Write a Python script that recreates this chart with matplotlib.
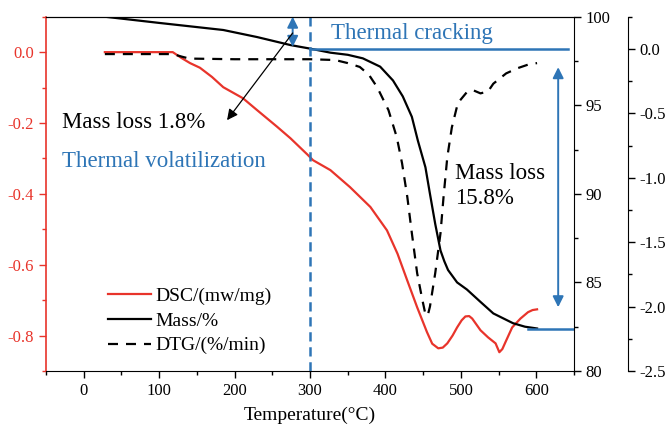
import numpy as np
import matplotlib
matplotlib.use("Agg")
from matplotlib import pyplot as plt
from matplotlib.ticker import MultipleLocator

plt.rcParams['font.family'] = ['Liberation Serif', 'DejaVu Serif']
plt.rcParams['axes.unicode_minus'] = False

# DSC heat flow (mw/mg) vs temperature
dsc_t = [28, 118, 130, 141, 154, 170, 185, 211, 230, 256, 274, 297, 304, 327, 353, 380,
         402, 416, 429, 442, 455, 462, 470, 476, 482, 489, 495, 501, 506, 511, 515, 520,
         526, 536, 546, 551, 555, 559, 568, 579, 589, 595, 601]
dsc_v = [0.0, 0.0, -0.017, -0.031, -0.044, -0.07, -0.099, -0.13, -0.164, -0.21, -0.243,
         -0.29, -0.305, -0.333, -0.381, -0.437, -0.503, -0.569, -0.645, -0.72, -0.79,
         -0.823, -0.836, -0.834, -0.822, -0.80, -0.777, -0.757, -0.746, -0.745, -0.752,
         -0.767, -0.785, -0.805, -0.822, -0.847, -0.838, -0.819, -0.777, -0.752, -0.734,
         -0.728, -0.726]

# TG mass (%) vs temperature
mass_t = [28, 100, 185, 230, 274, 300, 327, 350, 370, 393, 410, 423, 435, 443, 453, 459,
          466, 473, 478, 483, 495, 508, 526, 543, 569, 585, 601]
mass_v = [100.0, 99.65, 99.25, 98.85, 98.4, 98.2, 97.97, 97.85, 97.65, 97.18, 96.4, 95.5,
          94.35, 93.0, 91.5, 90.0, 88.3, 86.8, 86.2, 85.7, 85.0, 84.6, 83.9, 83.25, 82.7,
          82.5, 82.4]

# DTG (%/min) vs temperature
dtg_t = [28, 118, 130, 140, 200, 300, 327, 336, 350, 366, 378, 389, 404, 415, 422, 429,
         435, 442, 449, 453, 456, 459, 466, 473, 477, 482, 488, 496, 508, 516, 526, 536,
         543, 560, 575, 590, 601]
dtg_v = [-0.04, -0.04, -0.06, -0.075, -0.08, -0.08, -0.085, -0.09, -0.11, -0.14, -0.2,
         -0.297, -0.475, -0.685, -0.887, -1.15, -1.43, -1.74, -1.95, -2.06, -2.07, -2.0,
         -1.74, -1.43, -1.15, -0.84, -0.61, -0.42, -0.335, -0.32, -0.345, -0.33, -0.27,
         -0.19, -0.15, -0.12, -0.11]

red = '#E8342B'
blue = '#2E75B6'

fig = plt.figure(figsize=(6.67, 4.33), dpi=100)
ax = fig.add_axes([0.069, 0.1432, 0.7916, 0.8182])
ax2 = ax.twinx()
ax3 = ax.twinx()
ax3.spines['right'].set_position(('axes', 1.102))

l1, = ax.plot(dsc_t, dsc_v, color=red, lw=1.6, label='DSC/(mw/mg)')
l2, = ax2.plot(mass_t, mass_v, color='black', lw=1.6, label='Mass/%')
l3, = ax3.plot(dtg_t, dtg_v, color='black', lw=1.6, dashes=(4.5, 3.6), label='DTG/(%/min)')

ax.set_xlim(-50, 650)
ax.set_ylim(-0.9, 0.1)
ax2.set_ylim(80, 100)
ax3.set_ylim(-2.5, 0.25)

ax.xaxis.set_minor_locator(MultipleLocator(50))
ax.set_xticks(range(0, 601, 100))
ax.yaxis.set_minor_locator(MultipleLocator(0.1))
ax.set_yticks(np.arange(-0.8, 0.01, 0.2))
ax.set_yticklabels(['-0.8', '-0.6', '-0.4', '-0.2', '0.0'])
ax2.yaxis.set_major_locator(MultipleLocator(5))
ax2.yaxis.set_minor_locator(MultipleLocator(2.5))
ax3.yaxis.set_minor_locator(MultipleLocator(0.25))
ax3.set_yticks(np.arange(-2.5, 0.01, 0.5))
ax3.set_yticklabels(['-2.5', '-2.0', '-1.5', '-1.0', '-0.5', '0.0'])

for a in (ax, ax2, ax3):
    a.tick_params(which='major', length=5, width=1, labelsize=12)
    a.tick_params(which='minor', length=3, width=1)
ax.tick_params(axis='y', which='both', colors=red, labelcolor=red)
ax.spines['left'].set_color(red)
ax.spines['left'].set_linewidth(1.2)
for a in (ax2, ax3):
    a.spines['left'].set_visible(False)
    a.spines['bottom'].set_visible(False)
ax3.spines['top'].set_visible(False)
ax.spines['right'].set_visible(False)
ax.set_xlabel('Temperature(°C)', fontsize=14, labelpad=6)

# annotations on the mass scale
ax2.axvline(300, color=blue, lw=1.8, dashes=(3.7, 2.3))
ax2.plot([300, 642], [98.2, 98.2], color=blue, lw=1.8)
ax2.plot([589, 648], [82.35, 82.35], color=blue, lw=1.8)
ax2.annotate('', xy=(629, 83.6), xytext=(629, 97.15),
             arrowprops=dict(arrowstyle='<|-|>', color=blue, lw=1.4, mutation_scale=16,
                             shrinkA=0, shrinkB=0))
ax2.annotate('', xy=(277, 98.3), xytext=(277, 100.0),
             arrowprops=dict(arrowstyle='<|-|>', color=blue, lw=1.4, mutation_scale=16,
                             shrinkA=0, shrinkB=0))
ax2.annotate('', xy=(190, 94.16), xytext=(277, 99.08),
             arrowprops=dict(arrowstyle='-|>', color='black', lw=0.9, mutation_scale=16,
                             shrinkA=0, shrinkB=0))
ax2.text(328, 99.08, 'Thermal cracking', color=blue, fontsize=16.5, va='center')
ax2.text(-29, 94.05, 'Mass loss 1.8%', color='black', fontsize=16.5, va='center')
ax2.text(-29, 91.8, 'Thermal volatilization', color=blue, fontsize=16.5, va='center')
ax2.text(492, 90.45, 'Mass loss\n15.8%', color='black', fontsize=16.5, va='center',
         linespacing=1.25)

fig.legend(handles=[l1, l2, l3], loc='upper left', bbox_to_anchor=(0.162, 0.336),
           frameon=False, fontsize=14, handlelength=2.2, handletextpad=0.25,
           labelspacing=0.36, borderpad=0, borderaxespad=0)

fig.savefig('out.png', dpi=100)
